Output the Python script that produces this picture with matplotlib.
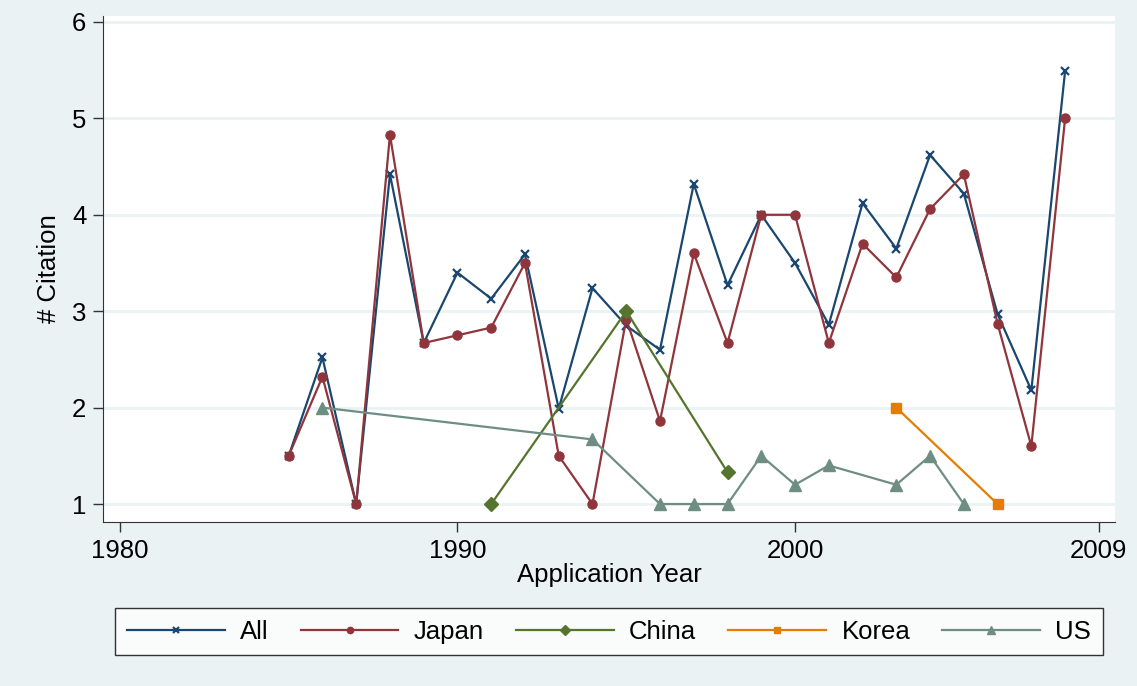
import matplotlib.pyplot as plt

plt.rcParams['font.family'] = ['Liberation Sans', 'DejaVu Sans']

bg = '#EAF2F3'

# series data (application year, mean citations)
all_years = list(range(1985, 2009))
all_vals = [1.5, 2.52, 1.0, 4.42, 2.67, 3.4, 3.13, 3.59, 1.99, 3.24, 2.85, 2.6,
            4.32, 3.27, 4.0, 3.5, 2.86, 4.12, 3.65, 4.62, 4.22, 2.97, 2.18, 5.49]

japan_years = list(range(1985, 2009))
japan_vals = [1.5, 2.32, 1.0, 4.83, 2.67, 2.75, 2.83, 3.5, 1.5, 1.0, 2.92, 1.86,
              3.6, 2.67, 4.0, 4.0, 2.67, 3.7, 3.35, 4.06, 4.42, 2.87, 1.6, 5.0]

china_years = [1991, 1995, 1998]
china_vals = [1.0, 3.0, 1.33]

korea_years = [2003, 2006]
korea_vals = [2.0, 1.0]

us_years = [1986, 1994, 1996, 1997, 1998, 1999, 2000, 2001, 2003, 2004, 2005]
us_vals = [2.0, 1.67, 1.0, 1.0, 1.0, 1.5, 1.2, 1.4, 1.2, 1.5, 1.0]

x_ticks = [1980, 1990, 2000, 2009]
y_ticks = [1, 2, 3, 4, 5, 6]

fs = 18.5

fig = plt.figure(figsize=(11.37, 6.86), dpi=100, facecolor=bg)
ax = fig.add_axes([0.0906, 0.239, 0.8901, 0.7377])
ax.set_facecolor('white')

ax.plot(all_years, all_vals, color='#1A476F', lw=1.6, marker='x', ms=6, mew=1.6, label='All')
ax.plot(japan_years, japan_vals, color='#90353B', lw=1.6, marker='o', ms=6.5, label='Japan')
ax.plot(china_years, china_vals, color='#55752F', lw=1.6, marker='D', ms=7, label='China')
ax.plot(korea_years, korea_vals, color='#E37E00', lw=1.6, marker='s', ms=7, label='Korea')
ax.plot(us_years, us_vals, color='#6E8E84', lw=1.6, marker='^', ms=8, label='US')

ax.set_xlim(1979.5, 2009.48)
ax.set_ylim(0.813, 6.062)
ax.set_xticks(x_ticks)
ax.set_yticks(y_ticks)
ax.yaxis.grid(True, color=bg, lw=2)
ax.set_axisbelow(True)

for s in ['top', 'right']:
    ax.spines[s].set_visible(False)
ax.spines['left'].set_color('#333333')
ax.spines['bottom'].set_color('#333333')
ax.tick_params(axis='both', labelsize=fs, length=7, width=1, direction='out',
               color='#333333', pad=5)

ax.set_xlabel('Application Year', fontsize=fs, labelpad=0)
ax.set_ylabel('# Citation', fontsize=fs, labelpad=8)

leg = ax.legend(loc='center', bbox_to_anchor=(0.5, -0.217), ncol=5, fontsize=fs,
                frameon=True, fancybox=False, edgecolor='black', handlelength=3.8,
                columnspacing=1.25, borderpad=0.45, handletextpad=0.6, markerscale=0.7)
leg.get_frame().set_linewidth(1)

fig.savefig('out.png', dpi=100, facecolor=bg)
